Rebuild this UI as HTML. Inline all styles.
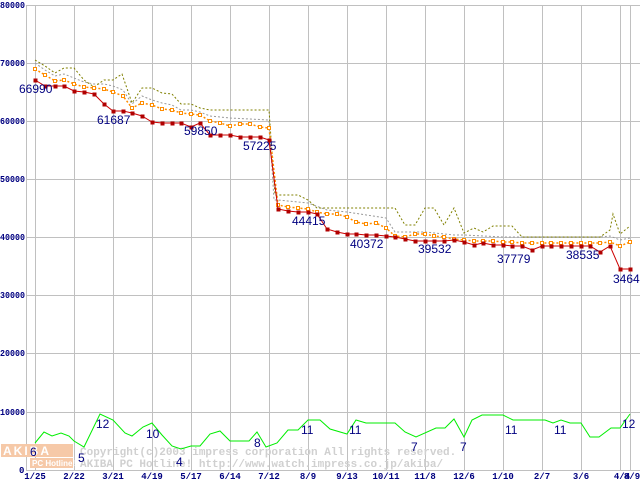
<!DOCTYPE html>
<html><head><meta charset="utf-8"><style>
html,body{margin:0;padding:0;background:#fff;}
svg{display:block;}
.yl{font-family:"Liberation Mono",monospace;font-size:9px;font-weight:bold;fill:#000080;}
.xl{font-family:"Liberation Mono",monospace;font-size:9px;font-weight:bold;fill:#000080;}
.lb{font-family:"Liberation Sans",sans-serif;font-size:12px;fill:#000080;}
</style></head><body>
<svg width="640" height="480" viewBox="0 0 640 480" xmlns="http://www.w3.org/2000/svg">
<rect width="640" height="480" fill="#fff"/>
<g stroke="#c0c0c0" stroke-width="1">
<line x1="26" y1="5.5" x2="640" y2="5.5"/><line x1="26" y1="63.5" x2="640" y2="63.5"/><line x1="26" y1="121.5" x2="640" y2="121.5"/><line x1="26" y1="179.5" x2="640" y2="179.5"/><line x1="26" y1="237.5" x2="640" y2="237.5"/><line x1="26" y1="295.5" x2="640" y2="295.5"/><line x1="26" y1="353.5" x2="640" y2="353.5"/><line x1="26" y1="412.5" x2="640" y2="412.5"/><line x1="26" y1="470.5" x2="640" y2="470.5"/>
<line x1="26.5" y1="5" x2="26.5" y2="470"/>
<line x1="35.5" y1="5" x2="35.5" y2="470"/><line x1="74.5" y1="5" x2="74.5" y2="470"/><line x1="113.5" y1="5" x2="113.5" y2="470"/><line x1="152.5" y1="5" x2="152.5" y2="470"/><line x1="191.5" y1="5" x2="191.5" y2="470"/><line x1="230.5" y1="5" x2="230.5" y2="470"/><line x1="269.5" y1="5" x2="269.5" y2="470"/><line x1="308.5" y1="5" x2="308.5" y2="470"/><line x1="347.5" y1="5" x2="347.5" y2="470"/><line x1="386.5" y1="5" x2="386.5" y2="470"/><line x1="425.5" y1="5" x2="425.5" y2="470"/><line x1="464.5" y1="5" x2="464.5" y2="470"/><line x1="503.5" y1="5" x2="503.5" y2="470"/><line x1="542.5" y1="5" x2="542.5" y2="470"/><line x1="581.5" y1="5" x2="581.5" y2="470"/><line x1="620.5" y1="5" x2="620.5" y2="470"/><line x1="630.5" y1="5" x2="630.5" y2="470"/>
</g>
<g class="yl">
<text x="0" y="8" textLength="25" lengthAdjust="spacingAndGlyphs">80000</text><text x="0" y="66" textLength="25" lengthAdjust="spacingAndGlyphs">70000</text><text x="0" y="124" textLength="25" lengthAdjust="spacingAndGlyphs">60000</text><text x="0" y="182" textLength="25" lengthAdjust="spacingAndGlyphs">50000</text><text x="0" y="240" textLength="25" lengthAdjust="spacingAndGlyphs">40000</text><text x="0" y="298" textLength="25" lengthAdjust="spacingAndGlyphs">30000</text><text x="0" y="356" textLength="25" lengthAdjust="spacingAndGlyphs">20000</text><text x="0" y="415" textLength="25" lengthAdjust="spacingAndGlyphs">10000</text><text x="19" y="473">0</text>
</g>
<g class="xl" text-anchor="middle">
<text x="35" y="479">1/25</text><text x="74" y="479">2/22</text><text x="113" y="479">3/21</text><text x="152" y="479">4/19</text><text x="191" y="479">5/17</text><text x="230" y="479">6/14</text><text x="269" y="479">7/12</text><text x="308" y="479">8/9</text><text x="347" y="479">9/13</text><text x="386" y="479">10/11</text><text x="425" y="479">11/8</text><text x="464" y="479">12/6</text><text x="503" y="479">1/10</text><text x="542" y="479">2/7</text><text x="581" y="479">3/6</text><text x="622" y="479">4/4</text><text x="632" y="479">8/9</text>
</g>
<rect x="1" y="444" width="72" height="13" fill="#f6c9a8"/>
<text x="3" y="455" font-family="Liberation Sans,sans-serif" font-size="12" font-weight="bold" fill="#fff" letter-spacing="2">AKIBA</text>
<rect x="30" y="458" width="43" height="10" fill="#f6c9a8"/>
<text x="32" y="466" font-family="Liberation Sans,sans-serif" font-size="8" font-weight="bold" fill="#fff">PC Hotline!</text>
<text x="80" y="455" font-family="Liberation Mono,monospace" font-size="11" font-weight="bold" fill="#d0d0d0">Copyright(c)2003 impress corporation All rights reserved.</text>
<text x="80" y="467" font-family="Liberation Mono,monospace" font-size="11" font-weight="bold" fill="#d0d0d0">AKIBA PC Hotline!  http://www.watch.impress.co.jp/akiba/</text>
<polyline fill="none" stroke="#999" stroke-width="1" stroke-dasharray="2,2" points="35,63 45,70 55,76 64,74 74,78 84,82 94,84 104,84 113,86 123,90 132,104 142,96 152,100 162,103 172,105 181,110 191,110 200,112 210,116 230,118 269,120 274,200 278,200 308,203 327,210 347,212 386,218 395,232 425,232 454,235 464,235 503,237 600,237 610,236 620,240 630,238"/>
<polyline fill="none" stroke="#808000" stroke-width="1" stroke-dasharray="2,2" points="35,60 45,66 55,73 64,68 74,68 84,80 94,87 104,80 113,80 122,74 132,103 142,88 152,88 162,93 172,94 181,104 191,104 200,108 210,110 269,110 275,195 298,195 308,200 317,208 395,208 405,225 415,225 425,208 434,208 444,225 454,208 464,233 474,228 483,232 493,226 512,226 522,237 600,237 610,230 613,214 620,234 630,226"/>
<polyline fill="none" stroke="#ff8c00" stroke-width="1.5" stroke-dasharray="2,2" points="35,69 45,75 55,81 64,80 74,84 84,87 94,88 104,89 113,92 123,96 132,108 142,103 152,105 162,109 172,110 181,113 191,114 200,115 210,121 220,123 230,126 240,124 250,124 260,127 269,128 278,205 288,207 298,208 308,209 317,212 327,214 337,214 347,217 356,222 366,224 376,223 386,228 395,236 405,237 415,234 425,234 434,236 444,237 454,239 464,240 474,241 483,241 493,241 503,242 512,242 522,243 532,243 542,243 551,243 561,243 571,243 581,243 590,243 600,243 610,242 620,246 630,242"/>
<g fill="#fff" stroke="#ff8c00" stroke-width="1">
<rect x="33.5" y="67.5" width="3" height="3"/><rect x="43.5" y="73.5" width="3" height="3"/><rect x="53.5" y="79.5" width="3" height="3"/><rect x="62.5" y="78.5" width="3" height="3"/><rect x="72.5" y="82.5" width="3" height="3"/><rect x="82.5" y="85.5" width="3" height="3"/><rect x="92.5" y="86.5" width="3" height="3"/><rect x="102.5" y="87.5" width="3" height="3"/><rect x="111.5" y="90.5" width="3" height="3"/><rect x="121.5" y="94.5" width="3" height="3"/><rect x="130.5" y="106.5" width="3" height="3"/><rect x="140.5" y="101.5" width="3" height="3"/><rect x="150.5" y="103.5" width="3" height="3"/><rect x="160.5" y="107.5" width="3" height="3"/><rect x="170.5" y="108.5" width="3" height="3"/><rect x="179.5" y="111.5" width="3" height="3"/><rect x="189.5" y="112.5" width="3" height="3"/><rect x="198.5" y="113.5" width="3" height="3"/><rect x="208.5" y="119.5" width="3" height="3"/><rect x="218.5" y="121.5" width="3" height="3"/><rect x="228.5" y="124.5" width="3" height="3"/><rect x="238.5" y="122.5" width="3" height="3"/><rect x="248.5" y="122.5" width="3" height="3"/><rect x="258.5" y="125.5" width="3" height="3"/><rect x="267.5" y="126.5" width="3" height="3"/><rect x="276.5" y="203.5" width="3" height="3"/><rect x="286.5" y="205.5" width="3" height="3"/><rect x="296.5" y="206.5" width="3" height="3"/><rect x="306.5" y="207.5" width="3" height="3"/><rect x="315.5" y="210.5" width="3" height="3"/><rect x="325.5" y="212.5" width="3" height="3"/><rect x="335.5" y="212.5" width="3" height="3"/><rect x="345.5" y="215.5" width="3" height="3"/><rect x="354.5" y="220.5" width="3" height="3"/><rect x="364.5" y="222.5" width="3" height="3"/><rect x="374.5" y="221.5" width="3" height="3"/><rect x="384.5" y="226.5" width="3" height="3"/><rect x="393.5" y="234.5" width="3" height="3"/><rect x="403.5" y="235.5" width="3" height="3"/><rect x="413.5" y="232.5" width="3" height="3"/><rect x="423.5" y="232.5" width="3" height="3"/><rect x="432.5" y="234.5" width="3" height="3"/><rect x="442.5" y="235.5" width="3" height="3"/><rect x="452.5" y="237.5" width="3" height="3"/><rect x="462.5" y="238.5" width="3" height="3"/><rect x="472.5" y="239.5" width="3" height="3"/><rect x="481.5" y="239.5" width="3" height="3"/><rect x="491.5" y="239.5" width="3" height="3"/><rect x="501.5" y="240.5" width="3" height="3"/><rect x="510.5" y="240.5" width="3" height="3"/><rect x="520.5" y="241.5" width="3" height="3"/><rect x="530.5" y="241.5" width="3" height="3"/><rect x="540.5" y="241.5" width="3" height="3"/><rect x="549.5" y="241.5" width="3" height="3"/><rect x="559.5" y="241.5" width="3" height="3"/><rect x="569.5" y="241.5" width="3" height="3"/><rect x="579.5" y="241.5" width="3" height="3"/><rect x="588.5" y="241.5" width="3" height="3"/><rect x="598.5" y="241.5" width="3" height="3"/><rect x="608.5" y="240.5" width="3" height="3"/><rect x="618.5" y="244.5" width="3" height="3"/><rect x="628.5" y="240.5" width="3" height="3"/>
</g>
<polyline fill="none" stroke="#cc0000" stroke-width="1" points="35,80 45,86 55,86 64,86 74,91 84,92 94,94 104,104 113,111 123,111 132,113 142,116 152,122 162,123 172,123 181,123 191,127 200,123 210,135 220,135 230,135 240,137 250,137 260,137 269,140 278,209 288,211 298,212 308,212 317,214 327,229 337,232 347,234 356,234 366,235 376,235 386,236 395,237 405,239 415,241 425,241 434,241 444,241 454,240 464,242 474,245 483,243 493,245 503,245 512,246 522,246 532,250 542,246 551,246 561,246 571,246 581,246 590,246 600,252 610,246 620,269 630,269"/>
<g fill="#b00000" transform="translate(0.5,0.5)">
<rect x="33" y="78" width="4" height="4"/><rect x="43" y="84" width="4" height="4"/><rect x="53" y="84" width="4" height="4"/><rect x="62" y="84" width="4" height="4"/><rect x="72" y="89" width="4" height="4"/><rect x="82" y="90" width="4" height="4"/><rect x="92" y="92" width="4" height="4"/><rect x="102" y="102" width="4" height="4"/><rect x="111" y="109" width="4" height="4"/><rect x="121" y="109" width="4" height="4"/><rect x="130" y="111" width="4" height="4"/><rect x="140" y="114" width="4" height="4"/><rect x="150" y="120" width="4" height="4"/><rect x="160" y="121" width="4" height="4"/><rect x="170" y="121" width="4" height="4"/><rect x="179" y="121" width="4" height="4"/><rect x="189" y="125" width="4" height="4"/><rect x="198" y="121" width="4" height="4"/><rect x="208" y="133" width="4" height="4"/><rect x="218" y="133" width="4" height="4"/><rect x="228" y="133" width="4" height="4"/><rect x="238" y="135" width="4" height="4"/><rect x="248" y="135" width="4" height="4"/><rect x="258" y="135" width="4" height="4"/><rect x="267" y="138" width="4" height="4"/><rect x="276" y="207" width="4" height="4"/><rect x="286" y="209" width="4" height="4"/><rect x="296" y="210" width="4" height="4"/><rect x="306" y="210" width="4" height="4"/><rect x="315" y="212" width="4" height="4"/><rect x="325" y="227" width="4" height="4"/><rect x="335" y="230" width="4" height="4"/><rect x="345" y="232" width="4" height="4"/><rect x="354" y="232" width="4" height="4"/><rect x="364" y="233" width="4" height="4"/><rect x="374" y="233" width="4" height="4"/><rect x="384" y="234" width="4" height="4"/><rect x="393" y="235" width="4" height="4"/><rect x="403" y="237" width="4" height="4"/><rect x="413" y="239" width="4" height="4"/><rect x="423" y="239" width="4" height="4"/><rect x="432" y="239" width="4" height="4"/><rect x="442" y="239" width="4" height="4"/><rect x="452" y="238" width="4" height="4"/><rect x="462" y="240" width="4" height="4"/><rect x="472" y="243" width="4" height="4"/><rect x="481" y="241" width="4" height="4"/><rect x="491" y="243" width="4" height="4"/><rect x="501" y="243" width="4" height="4"/><rect x="510" y="244" width="4" height="4"/><rect x="520" y="244" width="4" height="4"/><rect x="530" y="248" width="4" height="4"/><rect x="540" y="244" width="4" height="4"/><rect x="549" y="244" width="4" height="4"/><rect x="559" y="244" width="4" height="4"/><rect x="569" y="244" width="4" height="4"/><rect x="579" y="244" width="4" height="4"/><rect x="588" y="244" width="4" height="4"/><rect x="598" y="250" width="4" height="4"/><rect x="608" y="244" width="4" height="4"/><rect x="618" y="267" width="4" height="4"/><rect x="628" y="267" width="4" height="4"/>
</g>
<polyline fill="none" stroke="#00ee00" stroke-width="1" points="35,443 44,432 52,436 61,433 69,436 74,441 84,447 100,414 113,420 125,433 132,436 143,427 152,423 162,435 172,446 181,449 191,446 200,446 210,434 220,431 230,441 249,441 257,432 266,447 277,443 288,430 298,430 308,420 320,420 330,429 347,434 356,420 366,423 395,423 405,432 416,437 436,428 445,428 454,419 464,437 472,420 482,415 503,415 513,420 545,420 553,423 561,420 570,423 581,423 590,437 599,437 611,428 620,428 630,414"/>
<g class="lb">
<text x="19" y="93">66990</text><text x="97" y="124">61687</text><text x="184" y="135">59850</text><text x="243" y="150">57225</text><text x="292" y="225">44415</text><text x="350" y="248">40372</text><text x="418" y="253">39532</text><text x="497" y="263">37779</text><text x="566" y="259">38535</text><text x="613" y="283">34648</text>
<text x="30" y="456">6</text><text x="78" y="462">5</text><text x="96" y="428">12</text><text x="146" y="438">10</text><text x="176" y="466">4</text><text x="254" y="447">8</text><text x="301" y="434">11</text><text x="349" y="434">11</text><text x="411" y="451">7</text><text x="460" y="451">7</text><text x="505" y="434">11</text><text x="554" y="434">11</text><text x="622" y="428">12</text>
</g>
</svg>
</body></html>
